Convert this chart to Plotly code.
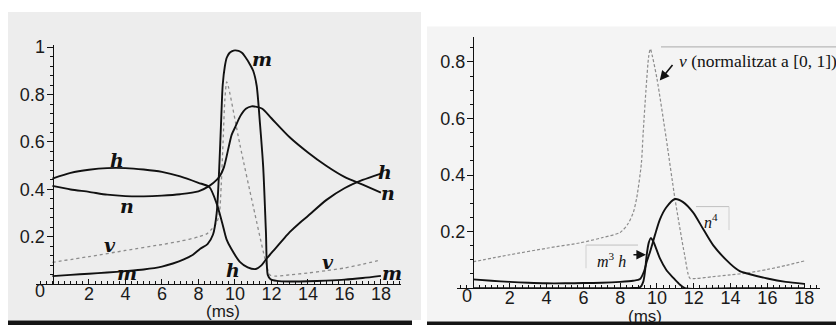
import plotly.graph_objects as go

W, H = 836, 325

# ---------------- data ----------------
# Left panel: gating variables h, n, m and normalised v
t_m = [0, 1, 2, 3, 4, 5, 6, 6.6, 7.2, 7.7, 8.1, 8.5, 8.8, 9.0, 9.14, 9.25, 9.33, 9.45, 9.55,
       9.7, 9.85, 10.0, 10.2, 10.4, 10.55, 10.8, 11.0, 11.19, 11.37, 11.55, 11.7, 11.8, 11.95,
       12.3, 13, 14, 15, 16, 17, 18]
m_vals = [0.035, 0.04, 0.045, 0.05, 0.056, 0.063, 0.075, 0.088, 0.105, 0.125, 0.15, 0.17, 0.21,
          0.3, 0.49, 0.7, 0.84, 0.92, 0.955, 0.975, 0.983, 0.986, 0.984, 0.975, 0.96, 0.93, 0.9,
          0.838, 0.68, 0.494, 0.219, 0.04, 0.022, 0.015, 0.012, 0.013, 0.016, 0.02, 0.027, 0.036]

t_h = [0, 1, 2, 3, 4, 5, 6, 7, 8, 8.6, 9.0, 9.3, 9.54, 9.8, 10.27, 10.7, 11.15, 11.45, 11.73,
       12.2, 12.65, 13, 13.56, 14, 15, 16, 17, 18]
h_vals = [0.446, 0.47, 0.483, 0.49, 0.49, 0.484, 0.474, 0.455, 0.428, 0.41, 0.34, 0.26, 0.19,
          0.15, 0.095, 0.072, 0.065, 0.08, 0.108, 0.15, 0.19, 0.22, 0.26, 0.288, 0.355, 0.405,
          0.44, 0.467]

t_n = [0, 1, 2, 3, 4, 5, 6, 7, 8, 8.6, 9.0, 9.2, 9.4, 9.82, 10.0, 10.3, 10.6, 10.91, 11.2,
       11.5, 12, 13, 14, 15, 16, 17, 18]
n_vals = [0.415, 0.4, 0.39, 0.378, 0.372, 0.371, 0.374, 0.38, 0.392, 0.415, 0.44, 0.46, 0.494,
          0.63, 0.66, 0.71, 0.74, 0.75, 0.748, 0.74, 0.70, 0.62, 0.556, 0.50, 0.453, 0.42, 0.387]

t_v = [0, 2, 4, 6, 7, 8, 8.5, 8.75, 9.0, 9.15, 9.25, 9.35, 9.45, 9.55, 9.65, 10.27, 11.0,
       11.73, 11.92, 12.2, 13, 14, 15, 16, 17, 18]
v_vals = [0.093, 0.117, 0.143, 0.168, 0.182, 0.2, 0.215, 0.235, 0.26, 0.3, 0.42, 0.6, 0.78,
          0.853, 0.83, 0.59, 0.33, 0.082, 0.04, 0.035, 0.04, 0.048, 0.058, 0.069, 0.085, 0.103]

# Right panel: normalised v, n^4 and m^3 h
t_v2 = [0, 2, 4, 5.82, 7, 8.0, 8.4, 8.71, 8.9, 9.15, 9.25, 9.4, 9.55, 9.64, 9.75, 10.0, 10.5,
        10.98, 11.5, 11.79, 12.1, 13, 14, 14.87, 16, 17, 18]
v2_vals = [0.093, 0.118, 0.141, 0.16, 0.178, 0.197, 0.225, 0.267, 0.32, 0.44, 0.55, 0.7, 0.82,
           0.846, 0.82, 0.74, 0.53, 0.315, 0.118, 0.035, 0.034, 0.04, 0.047, 0.053, 0.066,
           0.08, 0.096]

t_n4 = [0, 1, 2, 3, 4, 5, 6, 7, 8, 8.7, 9.08, 9.3, 9.45, 9.62, 9.9, 10.16, 10.5, 10.98, 11.4,
        11.97, 12.5, 13.06, 14, 14.5, 15, 16, 17, 18]
n4_vals = [0.031, 0.026, 0.022, 0.019, 0.017, 0.017, 0.018, 0.019, 0.022, 0.026, 0.032, 0.06,
           0.095, 0.128, 0.19, 0.243, 0.285, 0.315, 0.305, 0.267, 0.21, 0.151, 0.085, 0.06,
           0.05, 0.034, 0.022, 0.015]

t_m3h = [0, 4, 8.5, 9.08, 9.26, 9.35, 9.44, 9.55, 9.66, 9.8, 10.16, 10.5, 10.89, 11.2, 11.52, 14, 18]
m3h_vals = [0.0, 0.0, 0.0, 0.003, 0.024, 0.06, 0.117, 0.16, 0.177, 0.165, 0.105, 0.065, 0.036,
            0.015, 0.0, 0.0, 0.0]

x_ticks = [2, 4, 6, 8, 10, 12, 14, 16, 18]
y_ticks_left = [0.2, 0.4, 0.6, 0.8, 1.0]
y_ticktext_left = ["0.2", "0.4", "0.6", "0.8", "1"]
y_ticks_right = [0.2, 0.4, 0.6, 0.8]
y_ticktext_right = ["0.2", "0.4", "0.6", "0.8"]

# ---------------- figure ----------------
def px_x(p):
    return p / W

def px_y(p):
    return 1 - p / H

fig = go.Figure()

black = dict(color="#111111", width=1.9, shape="spline", smoothing=0.7)
grey_dot = dict(color="#8c8c8c", width=1.3, dash="dot", shape="spline", smoothing=0.7)
grey_dash = dict(color="#8c8c8c", width=1.2, dash="3px,2px", shape="spline", smoothing=0.7)

fig.add_trace(go.Scatter(x=t_v, y=v_vals, mode="lines", line=grey_dot, xaxis="x", yaxis="y"))
fig.add_trace(go.Scatter(x=t_h, y=h_vals, mode="lines", line=black, xaxis="x", yaxis="y"))
fig.add_trace(go.Scatter(x=t_n, y=n_vals, mode="lines", line=black, xaxis="x", yaxis="y"))
fig.add_trace(go.Scatter(x=t_m, y=m_vals, mode="lines", line=black, xaxis="x", yaxis="y"))

fig.add_trace(go.Scatter(x=t_v2, y=v2_vals, mode="lines", line=grey_dash, xaxis="x2", yaxis="y2"))
fig.add_trace(go.Scatter(x=t_n4, y=n4_vals, mode="lines", line=black, xaxis="x2", yaxis="y2"))
fig.add_trace(go.Scatter(x=t_m3h, y=m3h_vals, mode="lines", line=black, xaxis="x2", yaxis="y2"))

tickfont = dict(family="Liberation Sans, Arial, sans-serif", size=18, color="#1a1a1a")
msfont = dict(family="Liberation Sans, Arial, sans-serif", size=17, color="#1a1a1a")

axis_common = dict(showgrid=False, zeroline=False, showline=True, linecolor="#111",
                   linewidth=1, tickcolor="#111", tickfont=tickfont, fixedrange=True)

fig.update_layout(
    width=W, height=H, autosize=False,
    margin=dict(l=0, r=0, t=0, b=0),
    paper_bgcolor="white", plot_bgcolor="rgba(0,0,0,0)",
    showlegend=False,
    xaxis=dict(domain=[px_x(36), px_x(401)], range=[-0.9, 19.1], anchor="y",
               tickvals=x_ticks, ticks="inside", ticklen=5, ticklabelstandoff=-7,
               minor=dict(dtick=1/3, tick0=0, ticks="inside", ticklen=3, tickcolor="#111"),
               **axis_common),
    yaxis=dict(domain=[px_y(283.5), px_y(38.5)], range=[0, 1.01], anchor="free",
               position=px_x(52.5), tickvals=y_ticks_left, ticktext=y_ticktext_left,
               ticks="outside", ticklen=6, ticklabelstandoff=-2,
               minor=dict(dtick=0.04, tick0=0, ticks="outside", ticklen=3, tickcolor="#111"),
               **axis_common),
    xaxis2=dict(domain=[px_x(457), px_x(820)], range=[-0.87, 18.86], anchor="y2",
                tickvals=x_ticks, ticks="inside", ticklen=5, ticklabelstandoff=-7,
                minor=dict(dtick=1/3, tick0=0, ticks="inside", ticklen=3, tickcolor="#111"),
                **axis_common),
    yaxis2=dict(domain=[px_y(287.3), px_y(30.7)], range=[0, 0.888], anchor="free",
                position=px_x(473), tickvals=y_ticks_right, ticktext=y_ticktext_right,
                ticks="outside", ticklen=6, ticklabelstandoff=-2,
                minor=dict(dtick=0.05, tick0=0, ticks="outside", ticklen=3, tickcolor="#111"),
                **axis_common),
)

# scanned page backgrounds and bottom bars
shapes = [
    dict(type="rect", xref="paper", yref="paper", x0=px_x(8), x1=px_x(421), y0=px_y(320),
         y1=px_y(5), fillcolor="#ededed", line=dict(width=0), layer="below"),
    dict(type="rect", xref="paper", yref="paper", x0=px_x(427), x1=px_x(836), y0=px_y(321.5),
         y1=px_y(20), fillcolor="#f4f4f4", line=dict(width=0), layer="below"),
    dict(type="rect", xref="paper", yref="paper", x0=px_x(8), x1=px_x(412), y0=0,
         y1=px_y(320.5), fillcolor="#151515", line=dict(width=0), layer="above"),
    dict(type="rect", xref="paper", yref="paper", x0=px_x(427), x1=1, y0=0,
         y1=px_y(321.5), fillcolor="#151515", line=dict(width=0), layer="above"),
    # faint label box edges in right panel
    dict(type="line", xref="paper", yref="paper", x0=px_x(661), x1=1, y0=px_y(40.7),
         y1=px_y(40.7), line=dict(color="#b8b8b8", width=1.2)),
    dict(type="line", xref="paper", yref="paper", x0=px_x(696), x1=px_x(729), y0=px_y(204),
         y1=px_y(204), line=dict(color="#c0c0c0", width=1)),
    dict(type="line", xref="paper", yref="paper", x0=px_x(729), x1=px_x(729), y0=px_y(204),
         y1=px_y(228), line=dict(color="#d0d0d0", width=1)),
    dict(type="line", xref="paper", yref="paper", x0=px_x(586), x1=px_x(638), y0=px_y(243.3),
         y1=px_y(243.3), line=dict(color="#c0c0c0", width=1)),
    dict(type="line", xref="paper", yref="paper", x0=px_x(586), x1=px_x(586), y0=px_y(243.3),
         y1=px_y(267), line=dict(color="#d0d0d0", width=1)),
]
fig.update_layout(shapes=shapes)

hand = dict(family="DejaVu Serif, serif", size=19, color="#111", style="italic", weight="bold")
left_labels = [
    ("m", 11.48, 0.949), ("h", 3.53, 0.524), ("n", 4.08, 0.33), ("v", 3.15, 0.165),
    ("m", 4.08, 0.046), ("h", 9.89, 0.06), ("v", 15.1, 0.095), ("m", 18.6, 0.046),
    ("h", 18.22, 0.475), ("n", 18.38, 0.384),
]
ann = []
for txt, x, y in left_labels:
    ann.append(dict(text=txt, x=x, y=y, xref="x", yref="y", showarrow=False, font=hand,
                    xanchor="center", yanchor="middle"))

serif = dict(family="Liberation Serif", size=16, color="#111")
serif_big = dict(family="Liberation Serif", size=17.5, color="#111")
ann += [
    dict(text="<i>v</i> (normalitzat a [0, 1])", x=11.09, y=0.803, xref="x2", yref="y2",
         showarrow=False, font=serif_big, xanchor="left", yanchor="middle"),
    dict(text="<i>n</i><sup>4</sup>", x=12.93, y=0.239, xref="x2", yref="y2",
         showarrow=False, font=serif, xanchor="center", yanchor="middle"),
    dict(text="<i>m</i><sup>3</sup> <i>h</i>", x=7.55, y=0.1, xref="x2", yref="y2",
         showarrow=False, font=serif, xanchor="center", yanchor="middle"),
    dict(text="", x=10.15, y=0.734, xref="x2", yref="y2", showarrow=True, ax=14, ay=-17,
         arrowhead=2, arrowsize=1.2, arrowwidth=1.6, arrowcolor="#111"),
    dict(text="", x=9.4, y=0.118, xref="x2", yref="y2", showarrow=True, ax=-14, ay=0,
         arrowhead=2, arrowsize=1.2, arrowwidth=1.6, arrowcolor="#111"),
    # origin labels and axis titles
    dict(text="0", x=px_x(40), y=px_y(290), xref="paper", yref="paper", showarrow=False,
         font=tickfont, xanchor="center", yanchor="middle"),
    dict(text="0", x=px_x(467), y=px_y(295), xref="paper", yref="paper", showarrow=False,
         font=tickfont, xanchor="center", yanchor="middle"),
    dict(text="(ms)", x=px_x(223), y=px_y(311), xref="paper", yref="paper", showarrow=False,
         font=msfont, xanchor="center", yanchor="middle"),
    dict(text="(ms)", x=px_x(645), y=px_y(316), xref="paper", yref="paper", showarrow=False,
         font=msfont, xanchor="center", yanchor="middle"),
]
fig.update_layout(annotations=ann)

fig.write_html("out.html", config={"displayModeBar": False},
               post_script="document.body.style.margin='0';document.body.style.overflow='hidden';")
